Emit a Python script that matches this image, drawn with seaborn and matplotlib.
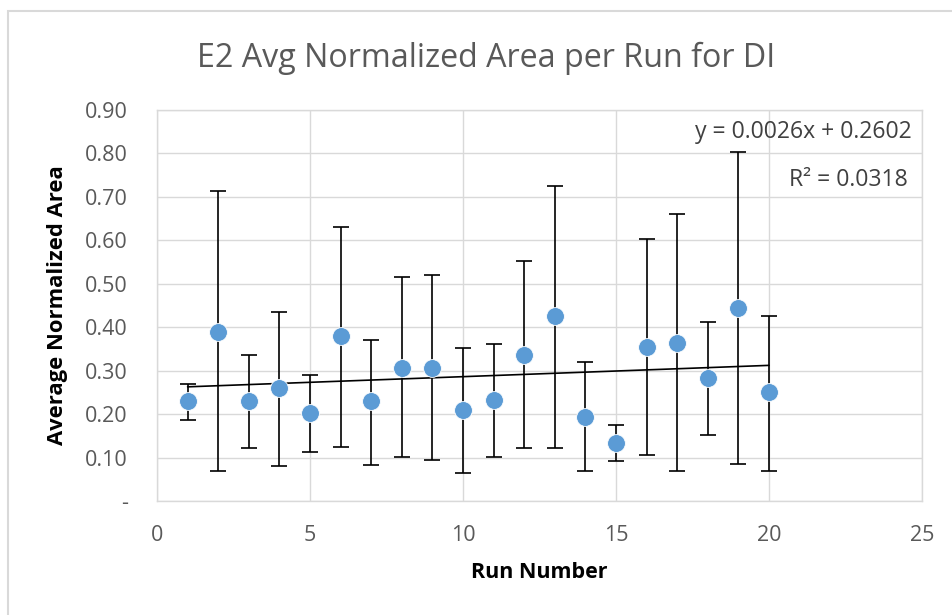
import numpy as np
import pandas as pd
import matplotlib
matplotlib.use("Agg")
import matplotlib.pyplot as plt
import seaborn as sns
from matplotlib.patches import Rectangle

# ---- data ----
runs = list(range(1, 21))
avg_area = [0.230, 0.390, 0.230, 0.260, 0.202, 0.379, 0.230, 0.307, 0.307, 0.210,
            0.232, 0.337, 0.425, 0.193, 0.133, 0.354, 0.363, 0.284, 0.445, 0.250]
upper = [0.270, 0.714, 0.335, 0.436, 0.289, 0.631, 0.370, 0.516, 0.521, 0.353,
         0.362, 0.553, 0.726, 0.319, 0.175, 0.604, 0.660, 0.413, 0.804, 0.425]
lower = [0.186, 0.069, 0.122, 0.080, 0.112, 0.124, 0.083, 0.101, 0.094, 0.064,
         0.101, 0.122, 0.122, 0.069, 0.092, 0.106, 0.069, 0.151, 0.085, 0.069]
slope = 0.0026
intercept = 0.2602
r_squared = 0.0318
y_ticks = [0.0, 0.1, 0.2, 0.3, 0.4, 0.5, 0.6, 0.7, 0.8, 0.9]
y_tick_labels = ["-", "0.10", "0.20", "0.30", "0.40", "0.50", "0.60", "0.70", "0.80", "0.90"]
x_ticks = [0, 5, 10, 15, 20, 25]

df = pd.DataFrame({"run": runs, "area": avg_area, "upper": upper, "lower": lower})

sns.set_theme(style="white")
plt.rcParams["font.family"] = ["Open Sans", "DejaVu Sans"]

W, H = 952, 615
fig = plt.figure(figsize=(W / 100, H / 100), dpi=100)
ax = fig.add_axes([157 / W, 1 - 501 / H, (922 - 157) / W, (501 - 110) / H])

grid_c = "#D9D9D9"
text_c = "#595959"

# error bars
yerr = np.vstack([df["area"] - df["lower"], df["upper"] - df["area"]])
ax.errorbar(df["run"], df["area"], yerr=yerr, fmt="none", ecolor="black",
            elinewidth=1.2, capsize=5.5, capthick=1.2, zorder=2)

# trendline
xt = np.array([df["run"].min(), df["run"].max()])
ax.plot(xt, slope * xt + intercept, color="black", lw=1.2, zorder=3)

# points
sns.scatterplot(data=df, x="run", y="area", ax=ax, color="#5B9BD5", s=165,
                edgecolor="white", linewidth=0.6, zorder=4, legend=False)

ax.set_xlim(0, 25)
ax.set_ylim(0, 0.9)
ax.set_xticks(x_ticks)
ax.set_yticks(y_ticks)
ax.set_yticklabels(y_tick_labels)
ax.grid(True, color=grid_c, lw=1)
ax.set_axisbelow(True)
for s in ax.spines.values():
    s.set_color(grid_c)
    s.set_linewidth(1)
ax.tick_params(axis="both", length=0, labelsize=15.5, colors=text_c)
ax.tick_params(axis="y", pad=21)
ax.tick_params(axis="x", pad=17)

ax.set_xlabel("Run Number", fontsize=15.5, fontweight="bold", color="black")
ax.set_ylabel("Average Normalized Area", fontsize=15.8, fontweight="bold", color="black")
ax.xaxis.label.set_va("center")
ax.xaxis.set_label_coords(0.5, (501 - 572) / 391)
ax.yaxis.label.set_va("center")
ax.yaxis.set_label_coords((57 - 157) / 765, 0.5)

ax.text((912 - 157) / 765, (501 - 132) / 391, f"y = {slope}x + {intercept}",
        transform=ax.transAxes, ha="right", va="center", fontsize=16.6, color="#404040")
ax.text((908 - 157) / 765, (501 - 180) / 391, f"R² = {r_squared}",
        transform=ax.transAxes, ha="right", va="center", fontsize=16.6, color="#404040")

fig.text(486 / W, 1 - 58 / H, "E2 Avg Normalized Area per Run for DI", ha="center",
         va="center", fontsize=23.2, color=text_c)

fig.patches.append(Rectangle((8 / W, -0.1), 1.2, (1 - 11 / H) + 0.1,
                             transform=fig.transFigure, fill=False,
                             edgecolor=grid_c, lw=1.5))

fig.savefig("out.png", dpi=100)
